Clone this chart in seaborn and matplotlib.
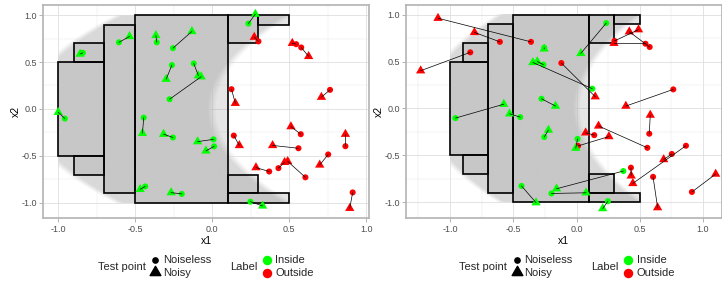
import numpy as np
import pandas as pd
import matplotlib
matplotlib.use("Agg")
import matplotlib.pyplot as plt
import seaborn as sns
from matplotlib.patches import Rectangle
from matplotlib.path import Path

# ---------------- data ----------------
# noiseless test points (shared by both panels)
clean_x1 = [0.235, 0.30, 0.545, 0.578, 0.765, 0.125, 0.14, 0.575, 0.56, 0.865,
            0.753, 0.37, 0.43, 0.605, 0.912, 0.248, -0.606, -0.36, -0.255, -0.84,
            -0.262, -0.12, -0.277, -0.957, -0.445, -0.255, 0.008, 0.012, -0.435, -0.198]
clean_x2 = [0.91, 0.72, 0.69, 0.655, 0.203, 0.21, -0.285, -0.27, -0.42, -0.398,
            -0.486, -0.668, -0.632, -0.73, -0.891, -0.99, 0.71, 0.71, 0.648, 0.598,
            0.467, 0.484, 0.103, -0.103, -0.093, -0.305, -0.325, -0.40, -0.827, -0.907]

# noisy versions, small noise (left panel)
left_x1 = [0.28, 0.273, 0.52, 0.626, 0.709, 0.15, 0.176, 0.511, 0.392, 0.865,
           0.698, 0.284, 0.47, 0.49, 0.893, 0.327, -0.537, -0.366, -0.132, -0.858,
           -0.299, -0.09, -0.072, -1.0, -0.453, -0.316, -0.095, -0.041, -0.468, -0.267]
left_x2 = [1.01, 0.765, 0.70, 0.56, 0.125, 0.06, -0.39, -0.189, -0.39, -0.27,
           -0.598, -0.626, -0.57, -0.56, -1.06, -1.035, 0.772, 0.783, 0.826, 0.585,
           0.317, 0.355, 0.343, -0.036, -0.26, -0.27, -0.349, -0.448, -0.858, -0.893]
left_label = ["Inside"] + ["Outside"] * 14 + ["Inside"] * 15

# noisy versions, large noise (right panel)
right_x1 = [0.034, 0.49, 0.296, 0.417, 0.39, -0.345, 0.072, 0.583, 0.174, 0.445,
            0.689, -0.158, 0.432, 0.641, 1.10, 0.207, -0.807, -1.095, -0.256, -1.232,
            -0.31, 0.148, -0.166, -0.575, -0.529, -0.222, -0.006, 0.256, -0.32, 0.075]
right_x2 = [0.587, 0.84, 0.695, 0.818, 0.025, 0.49, -0.26, -0.071, -0.187, -0.80,
            -0.545, -0.857, -0.719, -1.058, -0.70, -1.068, 0.811, 0.962, 0.635, 0.402,
            0.50, 0.125, 0.025, 0.045, -0.057, -0.231, -0.424, -0.30, -1.005, -0.90]
right_label = ["Inside", "Outside", "Outside", "Outside", "Outside", "Inside",
               "Outside", "Outside", "Outside", "Outside", "Outside", "Inside",
               "Outside", "Outside", "Outside", "Inside", "Outside", "Outside",
               "Inside", "Outside", "Inside", "Outside", "Inside", "Inside",
               "Inside", "Inside", "Inside", "Outside", "Inside", "Inside"]

# box set (union of rectangles)
box_xmin = [-0.5, -0.7, -1.0, -0.9, -0.9, 0.1, 0.3, 0.1, 0.1]
box_xmax = [0.1, -0.5, -0.7, -0.7, -0.7, 0.3, 0.5, 0.3, 0.5]
box_ymin = [-1.0, -0.9, -0.5, 0.5, -0.7, 0.7, 0.9, -0.9, -1.0]
box_ymax = [1.0, 0.9, 0.5, 0.7, -0.5, 1.0, 1.0, -0.7, -0.9]

# true region: 0.6*x2^2 - 1.2 <= x1 <= 0.5*x2^2 within [-1,1]^2
region_right_coef = 0.5
region_left_coef = 0.6
region_left_shift = -1.2

ticks = [-1.0, -0.5, 0.0, 0.5, 1.0]
tick_labels = ["-1.0", "-0.5", "0.0", "0.5", "1.0"]

palette = {"Inside": "#00FF00", "Outside": "#FF0000"}

# ---------------- style ----------------
sns.set_theme(style="whitegrid")
plt.rcParams["font.family"] = ["Liberation Sans", "DejaVu Sans"]
plt.rcParams["axes.unicode_minus"] = False

W, H = 722, 281
fig = plt.figure(figsize=(W / 100, H / 100), dpi=100)
fig.patch.set_facecolor("white")


def px_axes(x0, y0, x1, y1):
    return fig.add_axes([x0 / W, 1 - y1 / H, (x1 - x0) / W, (y1 - y0) / H])


tri = Path([(-1, -0.577), (1, -0.577), (0, 1.155), (-1, -0.577)],
           [Path.MOVETO, Path.LINETO, Path.LINETO, Path.CLOSEPOLY])

# region raster with soft (interpolated-looking) edges
n = 400
c = -1 + (np.arange(n) + 0.5) * (2.0 / n)
gx, gy = np.meshgrid(c, c)
soft = 0.06
d_right = region_right_coef * gy ** 2 - gx
d_left = gx - (region_left_coef * gy ** 2 + region_left_shift)
alpha = np.clip(np.minimum(d_right, d_left) / soft + 0.5, 0, 1)
rgba = np.zeros((n, n, 4))
rgba[..., :3] = 217 / 255
rgba[..., 3] = alpha


def draw_panel(ax, nx1, nx2, labels, xlim, ylim):
    ax.set_facecolor("white")
    ax.imshow(rgba, extent=[-1, 1, -1, 1], origin="lower", interpolation="bilinear",
              aspect="auto", zorder=1)
    for a, b, cc, d in zip(box_xmin, box_xmax, box_ymin, box_ymax):
        ax.add_patch(Rectangle((a, cc), b - a, d - cc, facecolor=(0.5, 0.5, 0.5, 0.2),
                               edgecolor="black", linewidth=1.2, zorder=2))
    df_clean = pd.DataFrame({"x1": clean_x1, "x2": clean_x2, "label": labels})
    df_noisy = pd.DataFrame({"x1": nx1, "x2": nx2, "label": labels})
    sns.scatterplot(data=df_clean, x="x1", y="x2", hue="label", palette=palette,
                    marker="o", s=19, linewidth=0, legend=False, ax=ax, zorder=3)
    sns.scatterplot(data=df_noisy, x="x1", y="x2", hue="label", palette=palette,
                    marker=tri, s=60, linewidth=0, legend=False, ax=ax, zorder=3)
    for xa, ya, xb, yb in zip(clean_x1, clean_x2, nx1, nx2):
        ax.plot([xa, xb], [ya, yb], color="black", linewidth=0.5, zorder=4)
    ax.set_xlim(*xlim)
    ax.set_ylim(*ylim)
    ax.set_xticks(ticks)
    ax.set_xticklabels(tick_labels)
    ax.set_yticks(ticks)
    ax.set_yticklabels(tick_labels)
    minor = [-1.25, -0.75, -0.25, 0.25, 0.75, 1.25]
    ax.set_xticks([m for m in minor if xlim[0] < m < xlim[1]], minor=True)
    ax.set_yticks([m for m in minor if ylim[0] < m < ylim[1]], minor=True)
    ax.grid(which="major", color="#DEDEDE", linewidth=0.6)
    ax.grid(which="minor", color="#E8E8E8", linewidth=0.35)
    ax.tick_params(which="major", length=3, width=0.7, color="#B3B3B3",
                   labelsize=6.5, labelcolor="#4D4D4D", pad=1.5, bottom=True, left=True)
    ax.tick_params(which="minor", length=0)
    for sp in ax.spines.values():
        sp.set_color("#B3B3B3")
        sp.set_linewidth(1.2)
        sp.set_zorder(5)
    ax.set_xlabel("x1", fontsize=7.5, labelpad=2, color="black")
    ax.set_ylabel("x2", fontsize=7.5, labelpad=0.5, color="black")


ax1 = px_axes(43.3, 5, 369.3, 218.3)
draw_panel(ax1, left_x1, left_x2, left_label, (-1.097, 1.02), (-1.167, 1.108))
ax2 = px_axes(406, 5, 721.5, 218.3)
draw_panel(ax2, right_x1, right_x2, right_label, (-1.348, 1.146), (-1.172, 1.103))

# legends (overlay in pixel coordinates)
lg = fig.add_axes([0, 0, 1, 1])
lg.set_xlim(0, W)
lg.set_ylim(H, 0)
lg.axis("off")
for tp_right in (145.7, 507.0):
    lg.text(tp_right, 266.5, "Test point", ha="right", va="center", fontsize=8)
    kx = tp_right + 9.5
    lg.plot([kx], [260], marker="o", markersize=3.8, color="black", linestyle="none")
    lg.plot([kx], [272], marker=tri, markersize=8.9, color="black", linestyle="none")
    lg.text(kx + 8, 260, "Noiseless", ha="left", va="center", fontsize=8)
    lg.text(kx + 8, 272.5, "Noisy", ha="left", va="center", fontsize=8)
    lr = tp_right + 111.6
    lg.text(lr, 266.5, "Label", ha="right", va="center", fontsize=8)
    lx = lr + 9.5
    lg.plot([lx], [260], marker="o", markersize=5.8, color=palette["Inside"], linestyle="none")
    lg.plot([lx], [272.5], marker="o", markersize=5.8, color=palette["Outside"], linestyle="none")
    lg.text(lx + 8.5, 260, "Inside", ha="left", va="center", fontsize=8)
    lg.text(lx + 8.5, 272.5, "Outside", ha="left", va="center", fontsize=8)

fig.savefig("out.png", dpi=100, facecolor="white")
